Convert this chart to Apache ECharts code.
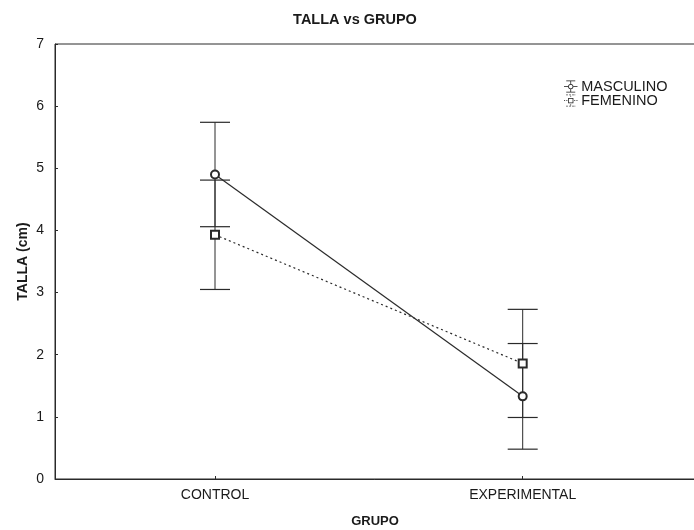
<!DOCTYPE html>
<html>
<head>
<meta charset="utf-8">
<script src="https://cdn.jsdelivr.net/npm/echarts@6/dist/echarts.min.js"></script>
<style>
  html, body { margin: 0; padding: 0; background: #fff; }
  #chart { width: 694px; height: 530px; }
</style>
</head>
<body>
<div id="chart"></div>
<script>
// Groups on the x axis (placed at x = 0 and x = 1)
const grupos = ['CONTROL', 'EXPERIMENTAL'];
const grupoPos = [0, 1];
// Y axis tick labels
const yTicks = [0, 1, 2, 3, 4, 5, 6, 7];
// Mean height (cm) per group
const masculinoMedia = [4.90, 1.33];
const femeninoMedia = [3.93, 1.86];
// Half-width of the interval drawn as whiskers
const masculinoError = [0.84, 0.85];
const femeninoError = [0.88, 0.87];

const ink = '#1a1a1a';
const lineInk = '#2a2a2a';
const font = 'Liberation Sans, Arial, sans-serif';

// Points: [x position, mean]
function points(media) {
  return media.map((m, i) => [grupoPos[i], m]);
}
// Whisker rows: [x position, low, high]
function whiskers(media, err) {
  return media.map((m, i) => [grupoPos[i], +(m - err[i]).toFixed(2), +(m + err[i]).toFixed(2)]);
}

function renderWhisker(params, api) {
  const x = api.value(0);
  const top = api.coord([x, api.value(2)]);
  const bot = api.coord([x, api.value(1)]);
  const w = 15;
  const st = { stroke: lineInk, lineWidth: 1.2 };
  return {
    type: 'group',
    children: [
      { type: 'line', shape: { x1: top[0], y1: top[1], x2: bot[0], y2: bot[1] }, style: { stroke: lineInk, lineWidth: 1 } },
      { type: 'line', shape: { x1: top[0] - w, y1: top[1], x2: top[0] + w, y2: top[1] }, style: st },
      { type: 'line', shape: { x1: bot[0] - w, y1: bot[1], x2: bot[0] + w, y2: bot[1] }, style: st }
    ]
  };
}

// Legend glyphs: whisker with marker in the middle
const iconMasc = 'path://' +
  'M5 0H17V1H5Z M5 15H17V16H5Z ' +
  'M10.5 1H11.5V4.6H10.5Z M10.5 11.4H11.5V15H10.5Z ' +
  'M2 7.5H7.4V8.5H2Z M14.6 7.5H20V8.5H14.6Z ' +
  'M7.5 8A3.5 3.5 0 1 1 14.5 8A3.5 3.5 0 1 1 7.5 8Z ' +
  'M8.5 8A2.5 2.5 0 1 0 13.5 8A2.5 2.5 0 1 0 8.5 8Z';
const iconFem = 'path://' +
  'M5 0H7V1H5Z M9 0H11V1H9Z M13 0H15V1H13Z M16 0H17V1H16Z ' +
  'M5 15H7V16H5Z M9 15H11V16H9Z M13 15H15V16H13Z M16 15H17V16H16Z ' +
  'M10.5 1.5H11.5V3H10.5Z M10.5 13H11.5V14.5H10.5Z ' +
  'M2 7.5H3.5V8.5H2Z M5 7.5H6.5V8.5H5Z M15.5 7.5H17V8.5H15.5Z M18.5 7.5H20V8.5H18.5Z ' +
  'M7.5 4.5H14.5V11.5H7.5Z M8.5 5.5V10.5H13.5V5.5Z';

const chart = echarts.init(document.getElementById('chart'), null, { renderer: 'canvas' });

chart.setOption({
  backgroundColor: '#fff',
  animation: false,
  title: {
    text: 'TALLA vs GRUPO',
    left: 350,
    top: 7,
    textAlign: 'center',
    textStyle: { fontFamily: font, fontSize: 14.5, fontWeight: 'bold', color: ink }
  },
  legend: {
    orient: 'vertical',
    left: 559,
    top: 74,
    itemWidth: 15,
    itemHeight: 12,
    itemGap: -1,
    selectedMode: false,
    textStyle: { fontFamily: font, fontSize: 14.5, lineHeight: 13, color: ink, padding: [0, 0, 0, -2] },
    itemStyle: { color: ink, borderWidth: 0 },
    data: [
      { name: 'MASCULINO', icon: iconMasc },
      { name: 'FEMENINO', icon: iconFem }
    ]
  },
  grid: {
    left: 55,
    top: 44,
    width: 640,
    bottom: 51,
    outerBoundsMode: 'none',
    show: true,
    borderColor: lineInk,
    borderWidth: 1,
    backgroundColor: 'transparent'
  },
  xAxis: {
    type: 'value',
    min: -0.52,
    max: 1.56,
    name: 'GRUPO',
    nameLocation: 'middle',
    nameGap: 36,
    nameMoveOverlap: false,
    nameTextStyle: { fontFamily: font, fontSize: 13, fontWeight: 'bold', color: ink },
    axisLine: { show: true, onZero: false, lineStyle: { color: lineInk, width: 1 } },
    axisTick: { show: true, inside: true, length: 3, customValues: grupoPos, lineStyle: { color: lineInk } },
    axisLabel: {
      fontFamily: font, fontSize: 14, color: ink, margin: 9,
      customValues: grupoPos,
      formatter: (v) => grupos[grupoPos.indexOf(Math.round(v))] || ''
    },
    splitLine: { show: false }
  },
  yAxis: {
    type: 'value',
    min: yTicks[0],
    max: yTicks[yTicks.length - 1],
    interval: 1,
    name: 'TALLA (cm)',
    nameLocation: 'middle',
    nameGap: 25,
    nameMoveOverlap: false,
    nameTextStyle: { fontFamily: font, fontSize: 14, fontWeight: 'bold', color: ink },
    axisLine: { show: true, onZero: false, lineStyle: { color: lineInk, width: 1 } },
    axisTick: { show: true, inside: true, length: 3, lineStyle: { color: lineInk } },
    axisLabel: { fontFamily: font, fontSize: 14, color: ink, margin: 11 },
    splitLine: { show: false }
  },
  series: [
    {
      name: 'errMasc',
      type: 'custom',
      renderItem: renderWhisker,
      data: whiskers(masculinoMedia, masculinoError),
      z: 1
    },
    {
      name: 'errFem',
      type: 'custom',
      renderItem: renderWhisker,
      data: whiskers(femeninoMedia, femeninoError),
      z: 1
    },
    {
      name: 'MASCULINO',
      type: 'line',
      data: points(masculinoMedia),
      symbol: 'emptyCircle',
      symbolSize: 8,
      lineStyle: { color: lineInk, width: 1.2, type: 'solid' },
      itemStyle: { color: lineInk, borderWidth: 1.4 },
      z: 3
    },
    {
      name: 'FEMENINO',
      type: 'line',
      data: points(femeninoMedia),
      symbol: 'emptyRect',
      symbolSize: 8,
      lineStyle: { color: lineInk, width: 1.2, type: [2, 3] },
      itemStyle: { color: lineInk, borderWidth: 1.4 },
      z: 3
    }
  ]
});
</script>
</body>
</html>
